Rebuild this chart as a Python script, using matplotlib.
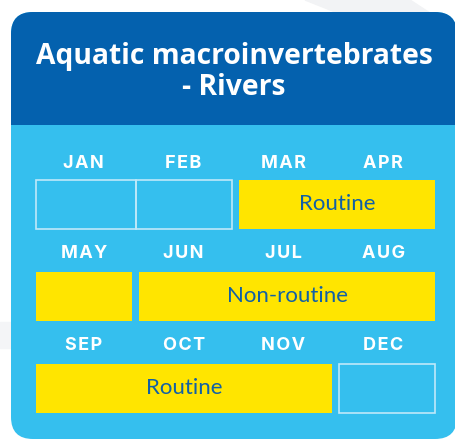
import matplotlib.pyplot as plt
from matplotlib.patches import FancyBboxPatch, Rectangle, Polygon

# --- data ---
TITLE = "Aquatic macroinvertebrates\n- Rivers"
months = ["JAN", "FEB", "MAR", "APR", "MAY", "JUN",
          "JUL", "AUG", "SEP", "OCT", "NOV", "DEC"]
# sampling periods: first month index, number of months, kind, label
seg_start = [0, 1, 2, 4, 5, 8, 11]
seg_len = [1, 1, 2, 1, 3, 3, 1]
seg_kind = ["none", "none", "routine", "routine", "nonroutine", "routine", "none"]
seg_label = ["", "", "Routine", "", "Non-routine", "Routine", ""]

# --- style ---
DARK = "#0461ae"
LIGHT = "#35bfee"
YELLOW = "#ffe500"
TEXT_DARK = "#1160a6"
TITLE_FONT = ["Open Sans", "DejaVu Sans"]
MONTH_FONT = ["Inter", "DejaVu Sans"]
BODY_FONT = ["Lato", "DejaVu Sans"]

W, H = 456, 440
X0, X1 = 36, 435          # grid extent
COL_W = (X1 - X0) / 4
ROW_TOP = 180
ROW_PITCH = 92
BOX_H = 49
GAP = 3.5
R = 22                    # card corner radius
HEADER_BOTTOM = 125

fig = plt.figure(figsize=(W / 100, H / 100), dpi=100)
ax = fig.add_axes([0, 0, 1, 1])
ax.set_xlim(0, W)
ax.set_ylim(H, 0)
ax.axis("off")

# faint background decorations
ax.add_patch(Polygon([(305, 0), (410, 0), (456, 30), (456, 60)], closed=True,
                     color="#f2f3f5", zorder=0))
ax.add_patch(Rectangle((0, 322), 12, 26, color="#f4f5f7", zorder=0))

# card body + header
cx, cy, cw, ch = 11, 12, 446, 427
ax.add_patch(FancyBboxPatch((cx + R, cy + R), cw - 2 * R, ch - 2 * R,
                            boxstyle=f"round,pad={R}", color=LIGHT, zorder=1,
                            linewidth=0))
ax.add_patch(FancyBboxPatch((cx + R, cy + R), cw - 2 * R, HEADER_BOTTOM - cy - 2 * R,
                            boxstyle=f"round,pad={R}", color=DARK, zorder=2,
                            linewidth=0))
ax.add_patch(Rectangle((cx, HEADER_BOTTOM - R - 2), cw, R + 2, color=DARK,
                       zorder=2, linewidth=0))
ax.text(234, 72, TITLE, ha="center", va="center", color="white",
        fontsize=20.3, fontweight="bold", family=TITLE_FONT,
        linespacing=1.1, zorder=3)

# month labels (slightly letter-spaced)
for i, m in enumerate(months):
    row, col = divmod(i, 4)
    x = X0 + (col + 0.5) * COL_W - 2
    y = ROW_TOP + row * ROW_PITCH - 17 - row
    ax.text(x, y, "\u200a".join(m), ha="center", va="center", color="white",
            fontsize=13, fontweight="bold", family=MONTH_FONT, zorder=3)


def is_empty(idx, row):
    return idx in seg_start and seg_kind[seg_start.index(idx)] == "none" and idx // 4 == row


# period boxes
for s, n, kind, lab in zip(seg_start, seg_len, seg_kind, seg_label):
    row, col = divmod(s, 4)
    left = X0 + col * COL_W
    right = X0 + (col + n) * COL_W
    top = ROW_TOP + row * ROW_PITCH
    if kind == "none":
        # outlined empty month, touching an adjacent empty month
        l = left + (0 if is_empty(s - 1, row) or col == 0 else GAP)
        r = right - (0 if is_empty(s + 1, row) or col + n == 4 else GAP)
        ax.add_patch(Rectangle((l, top), r - l, BOX_H, facecolor="none",
                               edgecolor="#bfe9f9", linewidth=1.2, zorder=3))
    else:
        l = left + (GAP if col > 0 else 0)
        r = right - (GAP if col + n < 4 else 0)
        ax.add_patch(Rectangle((l, top), r - l, BOX_H, facecolor=YELLOW,
                               edgecolor="none", zorder=3))
        if lab:
            ax.text((l + r) / 2, top + BOX_H / 2, lab, ha="center", va="center",
                    color=TEXT_DARK, fontsize=16, family=BODY_FONT, zorder=4)

fig.savefig("out.png", dpi=100)
